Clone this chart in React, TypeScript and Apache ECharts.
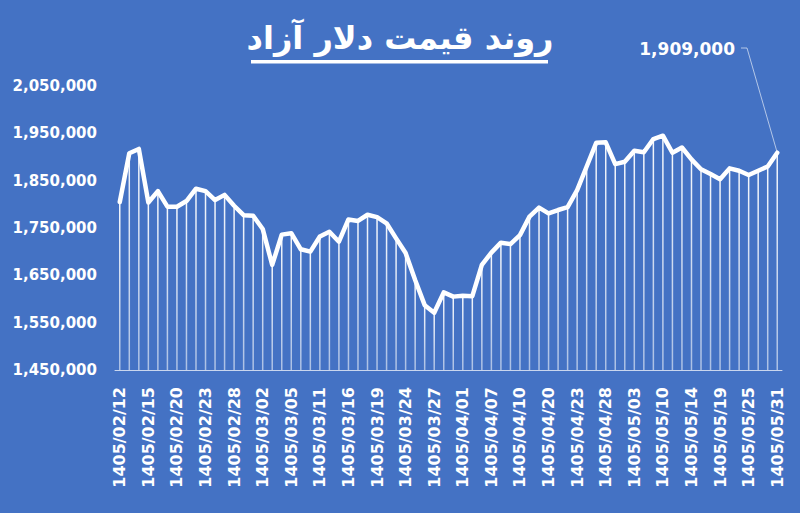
import React, { useEffect, useRef } from 'react';
import * as echarts from 'echarts';

// trading days (Persian calendar)
const dates = [
  '1405/02/12', '1405/02/13', '1405/02/14', '1405/02/15', '1405/02/16', '1405/02/19', '1405/02/20',
  '1405/02/21', '1405/02/22', '1405/02/23', '1405/02/26', '1405/02/27', '1405/02/28', '1405/02/29',
  '1405/02/30', '1405/03/02', '1405/03/03', '1405/03/04', '1405/03/05', '1405/03/06', '1405/03/09',
  '1405/03/11', '1405/03/12', '1405/03/13', '1405/03/16', '1405/03/17', '1405/03/18', '1405/03/19',
  '1405/03/20', '1405/03/23', '1405/03/24', '1405/03/25', '1405/03/26', '1405/03/27', '1405/03/30',
  '1405/03/31', '1405/04/01', '1405/04/02', '1405/04/06', '1405/04/07', '1405/04/08', '1405/04/09',
  '1405/04/10', '1405/04/13', '1405/04/17', '1405/04/20', '1405/04/21', '1405/04/22', '1405/04/23',
  '1405/04/26', '1405/04/27', '1405/04/28', '1405/04/29', '1405/04/30', '1405/05/03', '1405/05/04',
  '1405/05/05', '1405/05/10', '1405/05/11', '1405/05/12', '1405/05/14', '1405/05/17', '1405/05/18',
  '1405/05/19', '1405/05/20', '1405/05/21', '1405/05/25', '1405/05/26', '1405/05/27', '1405/05/31',
];

const prices = [
  1805000, 1908000, 1917000, 1804000, 1828000, 1795000, 1795000, 1807000, 1833000, 1828000,
  1809000, 1820000, 1797000, 1777000, 1776000, 1748000, 1672000, 1736000, 1739000, 1705000,
  1700000, 1732000, 1742000, 1721000, 1768000, 1765000, 1778000, 1773000, 1760000, 1728000,
  1697000, 1640000, 1587000, 1571000, 1614000, 1605000, 1607000, 1606000, 1672000, 1698000,
  1719000, 1716000, 1735000, 1774000, 1793000, 1781000, 1788000, 1794000, 1830000, 1880000,
  1930000, 1931000, 1885000, 1890000, 1913000, 1910000, 1938000, 1945000, 1909000, 1920000,
  1895000, 1874000, 1864000, 1853000, 1876000, 1871000, 1862000, 1871000, 1880000, 1909000,
];

const yTicks = [1450000, 1550000, 1650000, 1750000, 1850000, 1950000, 2050000];

const title = 'روند قیمت دلار آزاد';
const lastLabel = '1,909,000';

const fmt = (v: number) => v.toLocaleString('en-US');

const App: React.FC = () => {
  const chartRef = useRef<HTMLDivElement>(null);

  useEffect(() => {
    const chart = echarts.init(chartRef.current!, undefined, { renderer: 'svg' });

    chart.setOption({
      animation: false,
      backgroundColor: '#4472C4',
      grid: { left: 115, right: 18, top: 86, bottom: 143, containLabel: false },
      xAxis: {
        type: 'category',
        data: dates,
        boundaryGap: true,
        axisLine: { show: true, lineStyle: { color: '#c9d6ee', width: 1 } },
        axisTick: { show: false },
        axisLabel: {
          interval: 2,
          rotate: 90,
          margin: 17,
          color: '#fff',
          fontFamily: 'DejaVu Sans',
          fontWeight: 'bold',
          fontSize: 16,
        },
        splitLine: { show: false },
      },
      yAxis: {
        type: 'value',
        min: yTicks[0],
        max: yTicks[yTicks.length - 1],
        interval: 50000,
        axisLine: { show: false },
        axisTick: { show: false },
        splitLine: { show: false },
        axisLabel: {
          margin: 18,
          color: '#fff',
          fontFamily: 'DejaVu Sans',
          fontWeight: 'bold',
          fontSize: 15,
          formatter: (v: number) => (yTicks.includes(v) ? fmt(v) : ''),
        },
      },
      series: [
        {
          // drop lines
          type: 'bar',
          data: prices,
          barWidth: 1.5,
          silent: true,
          itemStyle: {
            color: new echarts.graphic.LinearGradient(0, 0, 0, 1, [
              { offset: 0, color: 'rgba(255,255,255,0.95)' },
              { offset: 1, color: 'rgba(255,255,255,0.55)' },
            ]),
          },
        },
        {
          type: 'line',
          data: prices,
          symbol: 'none',
          z: 5,
          lineStyle: { color: '#fff', width: 4.5, cap: 'round', join: 'round' },
        },
      ],
    });

    const last = prices.length - 1;
    const [px, py] = chart.convertToPixel({ seriesIndex: 1 }, [last, prices[last]]) as number[];

    chart.setOption({
      graphic: [
        {
          type: 'text',
          x: 400,
          y: 38,
          style: {
            text: title,
            fill: '#fff',
            font: 'bold 32px "DejaVu Sans"',
            align: 'center',
            verticalAlign: 'middle',
          },
        },
        {
          type: 'rect',
          shape: { x: 251, y: 60, width: 297, height: 3.5 },
          style: { fill: '#fff' },
        },
        {
          type: 'polyline',
          shape: { points: [[741, 48], [747, 48], [px, py]] },
          style: { stroke: 'rgba(255,255,255,0.6)', lineWidth: 1, fill: 'none' },
        },
        {
          type: 'text',
          x: 735,
          y: 49,
          style: {
            text: lastLabel,
            fill: '#fff',
            font: 'bold 17px "DejaVu Sans"',
            align: 'right',
            verticalAlign: 'middle',
          },
        },
      ],
    });

    return () => {
      chart.dispose();
    };
  }, []);

  return (
    <div
      ref={chartRef}
      style={{ position: 'fixed', left: 0, top: 0, width: '800px', height: '513px' }}
    />
  );
};

export default App;
